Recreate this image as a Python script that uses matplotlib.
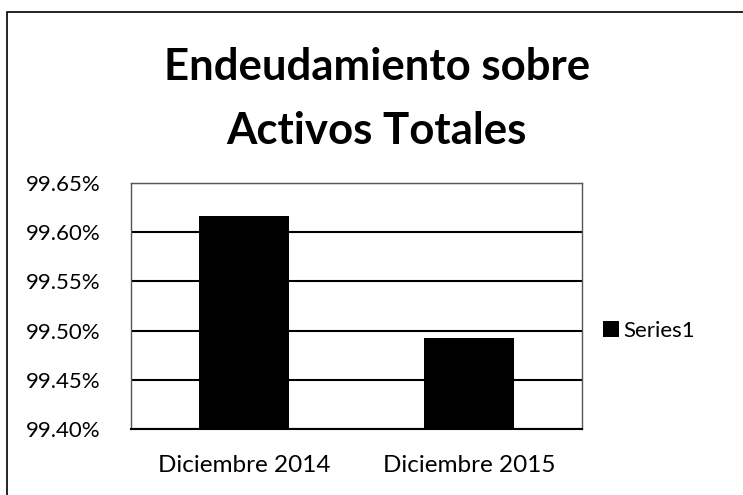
import matplotlib
matplotlib.use("Agg")
import matplotlib.pyplot as plt
from matplotlib.patches import Rectangle
from matplotlib.ticker import FuncFormatter

categories = ["Diciembre 2014", "Diciembre 2015"]
values = [0.99616, 0.99492]
yticks = [0.9940, 0.9945, 0.9950, 0.9955, 0.9960, 0.9965]
series_name = "Series1"
title = "Endeudamiento sobre\nActivos Totales"

plt.rcParams['font.family'] = ['Lato', 'DejaVu Sans']

fig = plt.figure(figsize=(7.43, 4.95), dpi=100)
ax = fig.add_axes([131 / 743, 1 - 429 / 495, 451 / 743, 246 / 495])

x = range(len(categories))
ax.bar(x, values, width=0.4, color="black", label=series_name, zorder=3)

ax.set_ylim(yticks[0], yticks[-1])
ax.set_xlim(-0.5, len(categories) - 0.5)
ax.set_yticks(yticks)
ax.yaxis.set_major_formatter(FuncFormatter(lambda v, p: f"{v * 100:.2f}%"))
ax.set_xticks(list(x))
ax.set_xticklabels(categories)
ax.tick_params(axis="both", length=0, colors="black")
ax.tick_params(axis="y", pad=22, labelsize=16)
ax.tick_params(axis="x", pad=19, labelsize=17.5)
ax.grid(axis="y", color="black", linewidth=1.5, zorder=1)

for s in ["top", "left", "right"]:
    ax.spines[s].set_color("#555555")
    ax.spines[s].set_linewidth(1)
ax.spines["bottom"].set_color("black")
ax.spines["bottom"].set_linewidth(1.5)

fig.text(0.507, 0.80, title, ha="center", va="center", fontsize=31.5,
         fontweight="bold", linespacing=1.75)

leg = fig.legend(loc="center left", bbox_to_anchor=(583 / 743, 1 - 331 / 495),
                 frameon=False, fontsize=16, handlelength=0.7, handleheight=0.7,
                 handletextpad=0.2)

# outer chart border
fig.patches.append(Rectangle((7 / 743, -0.05), 1.0, 1 - 12 / 495 + 0.05,
                             transform=fig.transFigure, fill=False,
                             edgecolor="black", linewidth=1.2))

fig.savefig("out.png", dpi=100)
